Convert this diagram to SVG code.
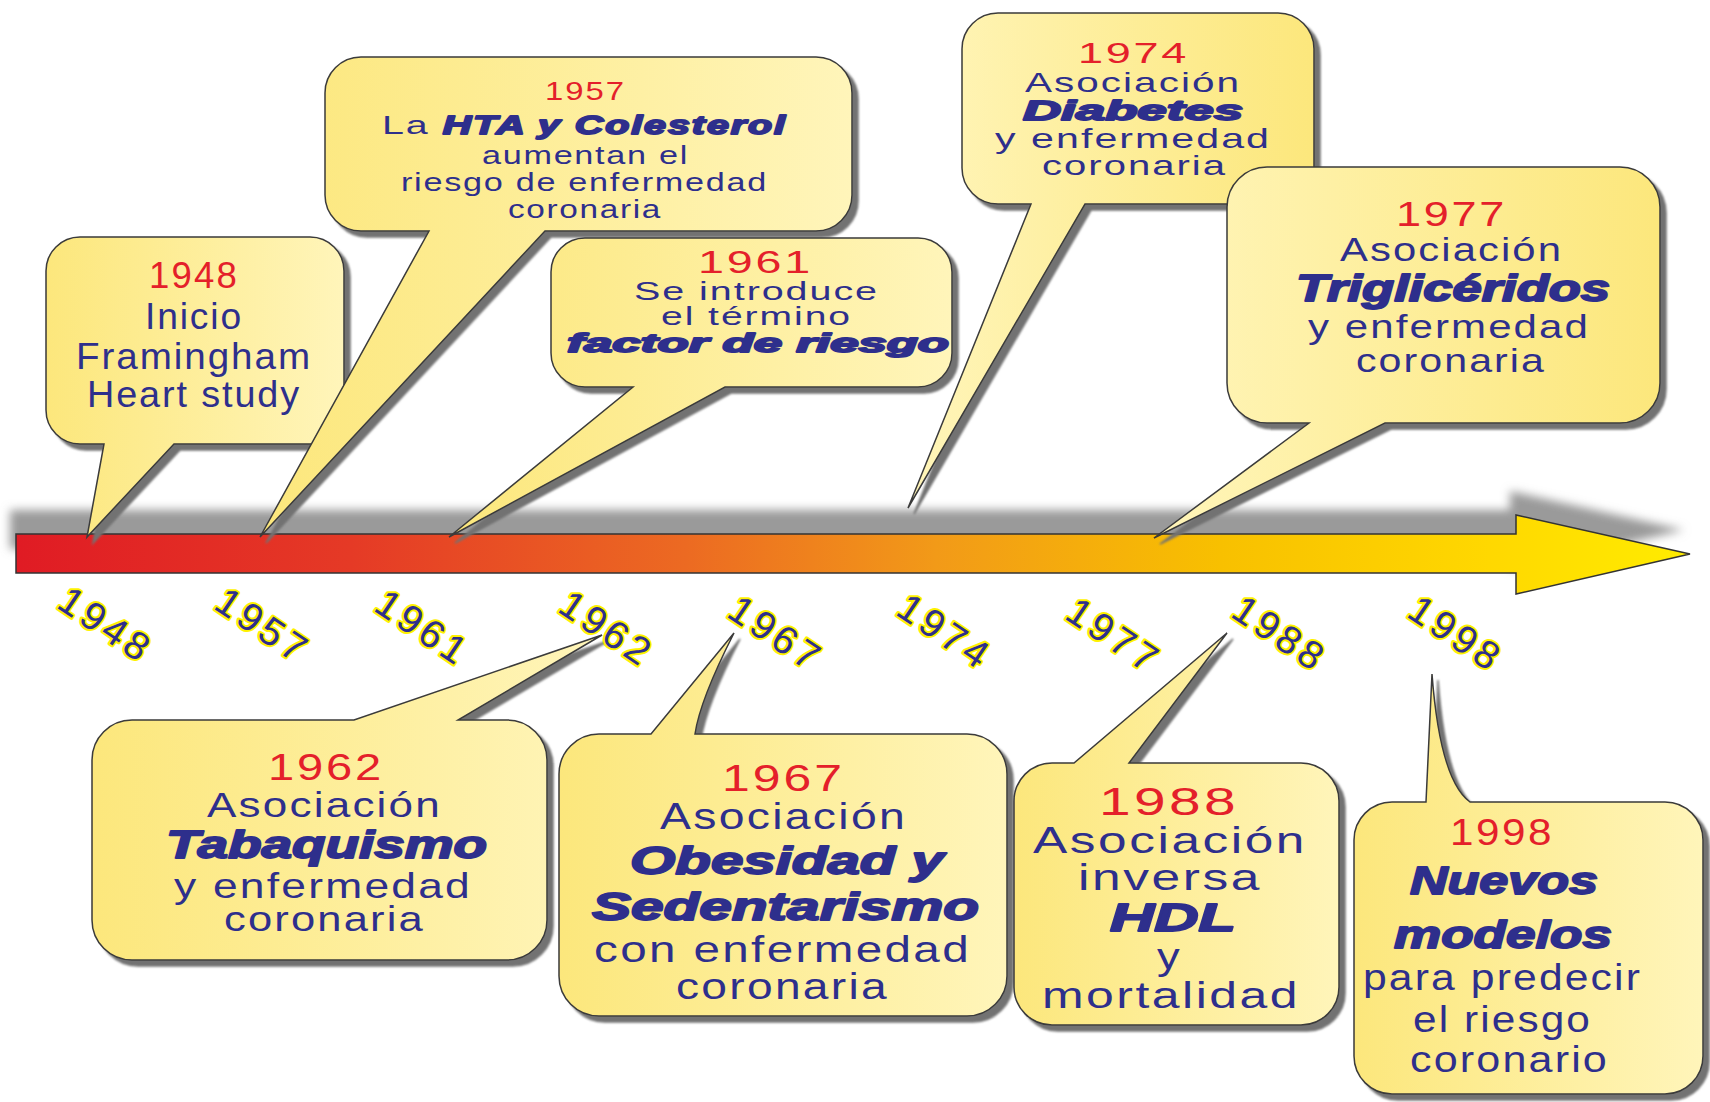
<svg xmlns="http://www.w3.org/2000/svg" width="1710" height="1102" viewBox="0 0 1710 1102">
<style>
  text { font-family: "Liberation Sans", Arial, sans-serif; }
  .yr { fill: #E4202A; letter-spacing: 0.06em; }
  .t { fill: #2E2F8C; letter-spacing: 0.05em; }
  .b { fill: #2E2F8C; font-weight: bold; font-style: italic; stroke: #2E2F8C; stroke-width: 1.8; stroke-linejoin: round; }
  .box { stroke: #3a3a3a; stroke-width: 1.5; filter: url(#sh); }
  .gl { fill: url(#gradL); }
  .gr { fill: url(#gradR); }
  .ax { fill: #2E2F8C; stroke: #FFF200; stroke-width: 4; paint-order: stroke; font-size: 39px; stroke-linejoin: round; }
</style>
<defs>
  <linearGradient id="gradL" x1="0" y1="0" x2="1" y2="0">
    <stop offset="0" stop-color="#FCE77C"/>
    <stop offset="1" stop-color="#FFF5BA"/>
  </linearGradient>
  <linearGradient id="gradR" x1="0" y1="0" x2="1" y2="0">
    <stop offset="0" stop-color="#FFF5BA"/>
    <stop offset="1" stop-color="#FCE77C"/>
  </linearGradient>
  <linearGradient id="barGrad" x1="16" y1="0" x2="1690" y2="0" gradientUnits="userSpaceOnUse">
    <stop offset="0" stop-color="#E01B24"/>
    <stop offset="0.2" stop-color="#E53A26"/>
    <stop offset="0.4" stop-color="#EC6A22"/>
    <stop offset="0.55" stop-color="#F29A18"/>
    <stop offset="0.72" stop-color="#F8C000"/>
    <stop offset="0.88" stop-color="#FFD800"/>
    <stop offset="1" stop-color="#FFEC00"/>
  </linearGradient>
  <filter id="sh" x="-10%" y="-10%" width="130%" height="130%">
    <feGaussianBlur in="SourceAlpha" stdDeviation="1.2"/>
    <feOffset dx="6" dy="6" result="o"/>
    <feFlood flood-color="#727272"/>
    <feComposite in2="o" operator="in"/>
    <feMerge><feMergeNode/><feMergeNode in="SourceGraphic"/></feMerge>
  </filter>
  <filter id="barsh" x="-5%" y="-50%" width="110%" height="200%">
    <feGaussianBlur stdDeviation="5"/>
  </filter>
</defs>

<g id="connectors">
  <path d="M16,534 H1516 V515 L1690,554 L1516,594 V573 H16 Z" fill="#9a9a9a" transform="translate(-6,-24)" filter="url(#barsh)"/>
  <path d="M16,534 H1516 V515 L1690,554 L1516,594 V573 H16 Z" fill="url(#barGrad)" stroke="#333" stroke-width="1.5"/>
</g>

<g id="node-1948">
  <path class="box gl" d="M80,237 H310 A34,34 0 0 1 344,271 V410 A34,34 0 0 1 310,444 H174 L87,537 L104,444 H80 A34,34 0 0 1 46,410 V271 A34,34 0 0 1 80,237 Z"/>
  <text class="yr" x="149" y="288" font-size="36" textLength="90" lengthAdjust="spacingAndGlyphs">1948</text>
  <text class="t" x="145" y="329" font-size="37" textLength="98" lengthAdjust="spacingAndGlyphs">Inicio</text>
  <text class="t" x="76" y="369" font-size="37" textLength="236" lengthAdjust="spacingAndGlyphs">Framingham</text>
  <text class="t" x="87" y="407" font-size="37" textLength="214" lengthAdjust="spacingAndGlyphs">Heart study</text>
</g>

<g id="node-1957">
  <path class="box gl" d="M361,57 H816 A36,36 0 0 1 852,93 V195 A36,36 0 0 1 816,231 H545 L260,537 L429,231 H361 A36,36 0 0 1 325,195 V93 A36,36 0 0 1 361,57 Z"/>
  <text class="yr" x="545" y="100" font-size="26" textLength="81" lengthAdjust="spacingAndGlyphs">1957</text>
  <text class="t" x="382" y="134" font-size="26" textLength="405" lengthAdjust="spacingAndGlyphs">La <tspan class="b">HTA y Colesterol</tspan></text>
  <text class="t" x="482" y="164" font-size="26" textLength="207" lengthAdjust="spacingAndGlyphs">aumentan el</text>
  <text class="t" x="401" y="191" font-size="26" textLength="367" lengthAdjust="spacingAndGlyphs">riesgo de enfermedad</text>
  <text class="t" x="508" y="218" font-size="26" textLength="154" lengthAdjust="spacingAndGlyphs">coronaria</text>
</g>

<g id="node-1961">
  <path class="box gl" d="M585,238 H918 A34,34 0 0 1 952,272 V353 A34,34 0 0 1 918,387 H725 L449,537 L633,387 H585 A34,34 0 0 1 551,353 V272 A34,34 0 0 1 585,238 Z"/>
  <text class="yr" x="698" y="273" font-size="31" textLength="115" lengthAdjust="spacingAndGlyphs">1961</text>
  <text class="t" x="634" y="300" font-size="26" textLength="245" lengthAdjust="spacingAndGlyphs">Se introduce</text>
  <text class="t" x="661" y="325" font-size="26" textLength="191" lengthAdjust="spacingAndGlyphs">el término</text>
  <text class="b" x="567" y="352" font-size="26" textLength="382" lengthAdjust="spacingAndGlyphs">factor de riesgo</text>
</g>

<g id="node-1974">
  <path class="box gr" d="M998,13 H1278 A36,36 0 0 1 1314,49 V168 A36,36 0 0 1 1278,204 H1085 L908,508 L1031,204 H998 A36,36 0 0 1 962,168 V49 A36,36 0 0 1 998,13 Z"/>
  <text class="yr" x="1078" y="63" font-size="29" textLength="111" lengthAdjust="spacingAndGlyphs">1974</text>
  <text class="t" x="1025" y="92" font-size="28" textLength="216" lengthAdjust="spacingAndGlyphs">Asociación</text>
  <text class="b" x="1023" y="120" font-size="28" textLength="220" lengthAdjust="spacingAndGlyphs">Diabetes</text>
  <text class="t" x="995" y="148" font-size="28" textLength="276" lengthAdjust="spacingAndGlyphs">y enfermedad</text>
  <text class="t" x="1042" y="175" font-size="28" textLength="185" lengthAdjust="spacingAndGlyphs">coronaria</text>
</g>

<g id="node-1977">
  <path class="box gr" d="M1267,167 H1620 A40,40 0 0 1 1660,207 V383 A40,40 0 0 1 1620,423 H1385 L1154,538 L1309,423 H1267 A40,40 0 0 1 1227,383 V207 A40,40 0 0 1 1267,167 Z"/>
  <text class="yr" x="1396" y="226" font-size="35" textLength="111" lengthAdjust="spacingAndGlyphs">1977</text>
  <text class="t" x="1340" y="261" font-size="34" textLength="223" lengthAdjust="spacingAndGlyphs">Asociación</text>
  <text class="b" x="1296" y="301" font-size="36" textLength="314" lengthAdjust="spacingAndGlyphs">Triglicéridos</text>
  <text class="t" x="1308" y="338" font-size="34" textLength="282" lengthAdjust="spacingAndGlyphs">y enfermedad</text>
  <text class="t" x="1356" y="372" font-size="34" textLength="190" lengthAdjust="spacingAndGlyphs">coronaria</text>
</g>

<g id="node-1962">
  <path class="box gl" d="M132,720 H354 L602,635 L458,720 H507 A40,40 0 0 1 547,760 V920 A40,40 0 0 1 507,960 H132 A40,40 0 0 1 92,920 V760 A40,40 0 0 1 132,720 Z"/>
  <text class="yr" x="268" y="780" font-size="36" textLength="116" lengthAdjust="spacingAndGlyphs">1962</text>
  <text class="t" x="207" y="817" font-size="35" textLength="235" lengthAdjust="spacingAndGlyphs">Asociación</text>
  <text class="b" x="166" y="858" font-size="38" textLength="321" lengthAdjust="spacingAndGlyphs">Tabaquismo</text>
  <text class="t" x="174" y="898" font-size="35" textLength="298" lengthAdjust="spacingAndGlyphs">y enfermedad</text>
  <text class="t" x="224" y="931" font-size="35" textLength="201" lengthAdjust="spacingAndGlyphs">coronaria</text>
</g>

<g id="node-1967">
  <path class="box gl" d="M599,734 H651 L734,633 Q700,700 695,734 H967 A40,40 0 0 1 1007,774 V976 A40,40 0 0 1 967,1016 H599 A40,40 0 0 1 559,976 V774 A40,40 0 0 1 599,734 Z"/>
  <text class="yr" x="722" y="791" font-size="37" textLength="123" lengthAdjust="spacingAndGlyphs">1967</text>
  <text class="t" x="660" y="829" font-size="36" textLength="247" lengthAdjust="spacingAndGlyphs">Asociación</text>
  <text class="b" x="630" y="874" font-size="39" textLength="314" lengthAdjust="spacingAndGlyphs">Obesidad y</text>
  <text class="b" x="592" y="920" font-size="39" textLength="387" lengthAdjust="spacingAndGlyphs">Sedentarismo</text>
  <text class="t" x="594" y="962" font-size="36" textLength="377" lengthAdjust="spacingAndGlyphs">con enfermedad</text>
  <text class="t" x="676" y="999" font-size="36" textLength="213" lengthAdjust="spacingAndGlyphs">coronaria</text>
</g>

<g id="node-1988">
  <path class="box gl" d="M1052,763 H1074 L1227,633 L1129,763 H1301 A38,38 0 0 1 1339,801 V987 A38,38 0 0 1 1301,1025 H1052 A38,38 0 0 1 1014,987 V801 A38,38 0 0 1 1052,763 Z"/>
  <text class="yr" x="1099" y="815" font-size="38" textLength="140" lengthAdjust="spacingAndGlyphs">1988</text>
  <text class="t" x="1033" y="853" font-size="37" textLength="274" lengthAdjust="spacingAndGlyphs">Asociación</text>
  <text class="t" x="1078" y="890" font-size="37" textLength="184" lengthAdjust="spacingAndGlyphs">inversa</text>
  <text class="b" x="1110" y="931" font-size="38" textLength="126" lengthAdjust="spacingAndGlyphs">HDL</text>
  <text class="t" x="1157" y="969" font-size="37" textLength="25" lengthAdjust="spacingAndGlyphs">y</text>
  <text class="t" x="1042" y="1008" font-size="37" textLength="258" lengthAdjust="spacingAndGlyphs">mortalidad</text>
</g>

<g id="node-1998">
  <path class="box gl" d="M1392,802 H1426 L1432,674 Q1440,780 1470,802 H1665 A38,38 0 0 1 1703,840 V1056 A38,38 0 0 1 1665,1094 H1392 A38,38 0 0 1 1354,1056 V840 A38,38 0 0 1 1392,802 Z"/>
  <text class="yr" x="1450" y="845" font-size="36" textLength="104" lengthAdjust="spacingAndGlyphs">1998</text>
  <text class="b" x="1410" y="894" font-size="39" textLength="188" lengthAdjust="spacingAndGlyphs">Nuevos</text>
  <text class="b" x="1394" y="948" font-size="39" textLength="218" lengthAdjust="spacingAndGlyphs">modelos</text>
  <text class="t" x="1363" y="990" font-size="36" textLength="279" lengthAdjust="spacingAndGlyphs">para predecir</text>
  <text class="t" x="1413" y="1032" font-size="36" textLength="179" lengthAdjust="spacingAndGlyphs">el riesgo</text>
  <text class="t" x="1410" y="1072" font-size="36" textLength="199" lengthAdjust="spacingAndGlyphs">coronario</text>
</g>

<g id="axis-labels">
  <text class="ax" transform="translate(104,624) rotate(34)" x="0" y="13" text-anchor="middle" textLength="100">1948</text>
  <text class="ax" transform="translate(261,625) rotate(34)" x="0" y="13" text-anchor="middle" textLength="100">1957</text>
  <text class="ax" transform="translate(421,627) rotate(34)" x="0" y="13" text-anchor="middle" textLength="100">1961</text>
  <text class="ax" transform="translate(605,628) rotate(34)" x="0" y="13" text-anchor="middle" textLength="100">1962</text>
  <text class="ax" transform="translate(774,633) rotate(34)" x="0" y="13" text-anchor="middle" textLength="100">1967</text>
  <text class="ax" transform="translate(943,631) rotate(34)" x="0" y="13" text-anchor="middle" textLength="100">1974</text>
  <text class="ax" transform="translate(1112,635) rotate(34)" x="0" y="13" text-anchor="middle" textLength="100">1977</text>
  <text class="ax" transform="translate(1278,633) rotate(34)" x="0" y="13" text-anchor="middle" textLength="100">1988</text>
  <text class="ax" transform="translate(1454,633) rotate(34)" x="0" y="13" text-anchor="middle" textLength="100">1998</text>
</g>
</svg>
